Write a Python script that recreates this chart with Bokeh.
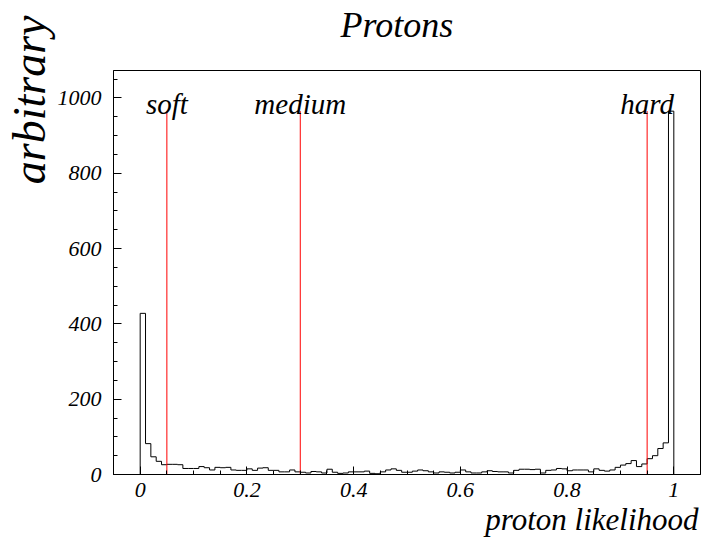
import numpy as np
from bokeh.plotting import figure
from bokeh.models import Label, FixedTicker, Range1d, Title
from bokeh.embed import file_html
from bokeh.resources import INLINE

# proton likelihood histogram, 100 bins between 0 and 1
counts = [428, 82, 47, 35, 26, 27, 27, 26, 16, 16, 16, 21, 18, 12, 19, 18,
          19, 12, 11, 11, 15, 11, 17, 18, 11, 11, 7, 7, 12, 7, 6, 4, 8,
          7, 4, 14, 6, 3, 4, 7, 7, 7, 9, 3, 2, 7, 12, 15, 11, 6,
          6, 9, 12, 10, 7, 4, 7, 6, 4, 6, 12, 7, 4, 4, 7, 10, 8,
          7, 7, 4, 11, 14, 14, 13, 14, 4, 11, 12, 16, 15, 10, 12, 12,
          12, 7, 15, 11, 9, 12, 19, 25, 29, 37, 21, 28, 42, 50, 69, 84, 965]
bin_lo, bin_hi = 0.0, 1.0

# selection cuts
cut_names = ["soft", "medium", "hard"]
cut_values = [0.05, 0.30, 0.95]

x_ticks = [0, 0.2, 0.4, 0.6, 0.8, 1.0]
x_tick_labels = ["0", "0.2", "0.4", "0.6", "0.8", "1"]
y_ticks = [0, 200, 400, 600, 800, 1000]

FONT = "Liberation Serif"
TITLE_FONT = '"Liberation Serif"'

edges = np.linspace(bin_lo, bin_hi, len(counts) + 1)

p = figure(width=702, height=542, output_backend="svg", toolbar_location=None,
           x_range=Range1d(-0.05, 1.05), y_range=Range1d(0, 1073),
           min_border_left=113, min_border_right=2,
           min_border_top=70, min_border_bottom=68)
p.background_fill_color = "white"
p.border_fill_color = "white"
p.outline_line_color = "black"
p.outline_line_width = 1
p.grid.visible = False

# histogram outline drawn as a step curve
step_x = np.concatenate([[edges[0]], edges])
step_y = np.concatenate([[0], counts, [0]])
p.step(step_x, step_y, mode="after", line_color="black", line_width=1)

# vertical cut lines up to the histogram maximum
ymax = max(counts)
p.segment(x0=cut_values, y0=[0] * len(cut_values), x1=cut_values,
          y1=[ymax] * len(cut_values), line_color="#ff0000", line_width=1)

for name, cv in zip(cut_names, cut_values):
    p.add_layout(Label(x=cv, y=985, text=name, text_align="center",
                       text_baseline="alphabetic", text_font=FONT,
                       text_font_style="italic", text_font_size="29px",
                       text_color="black"))

# axes
p.xaxis.ticker = FixedTicker(ticks=x_ticks,
                             minor_ticks=[round(v, 2) for v in np.arange(-0.05, 1.051, 0.05)])
p.xaxis.major_label_overrides = {t: l for t, l in zip(x_ticks, x_tick_labels)}
p.yaxis.ticker = FixedTicker(ticks=y_ticks, minor_ticks=list(range(0, 1075, 50)))

for ax in (p.xaxis[0], p.yaxis[0]):
    ax.axis_line_color = "black"
    ax.major_tick_line_color = "black"
    ax.minor_tick_line_color = "black"
    ax.major_tick_in = 8
    ax.major_tick_out = 0
    ax.minor_tick_in = 4
    ax.minor_tick_out = 0
    ax.major_label_text_font = FONT
    ax.major_label_text_font_style = "italic"
    ax.major_label_text_font_size = "22px"
    ax.major_label_text_color = "black"
p.xaxis.major_label_standoff = 8
p.yaxis.major_label_standoff = 12

# gap between frame and title
p.add_layout(Title(text=" ", text_font_size="2px", standoff=22), "above")
# title and axis titles
p.add_layout(Title(text="Protons", align="left", offset=227, standoff=0,
                   text_font=TITLE_FONT, text_font_style="italic", text_font_size="36px",
                   text_color="black"), "above")
p.add_layout(Title(text="proton likelihood", align="right", offset=2, standoff=0,
                   text_font=TITLE_FONT, text_font_style="italic", text_font_size="31px",
                   text_color="black"), "below")
p.add_layout(Title(text="arbitrary", align="right", offset=-55, standoff=0,
                   text_font=TITLE_FONT, text_font_style="italic", text_font_size="46px",
                   text_color="black"), "left")

open("out.html", "w").write(file_html(p, INLINE))
